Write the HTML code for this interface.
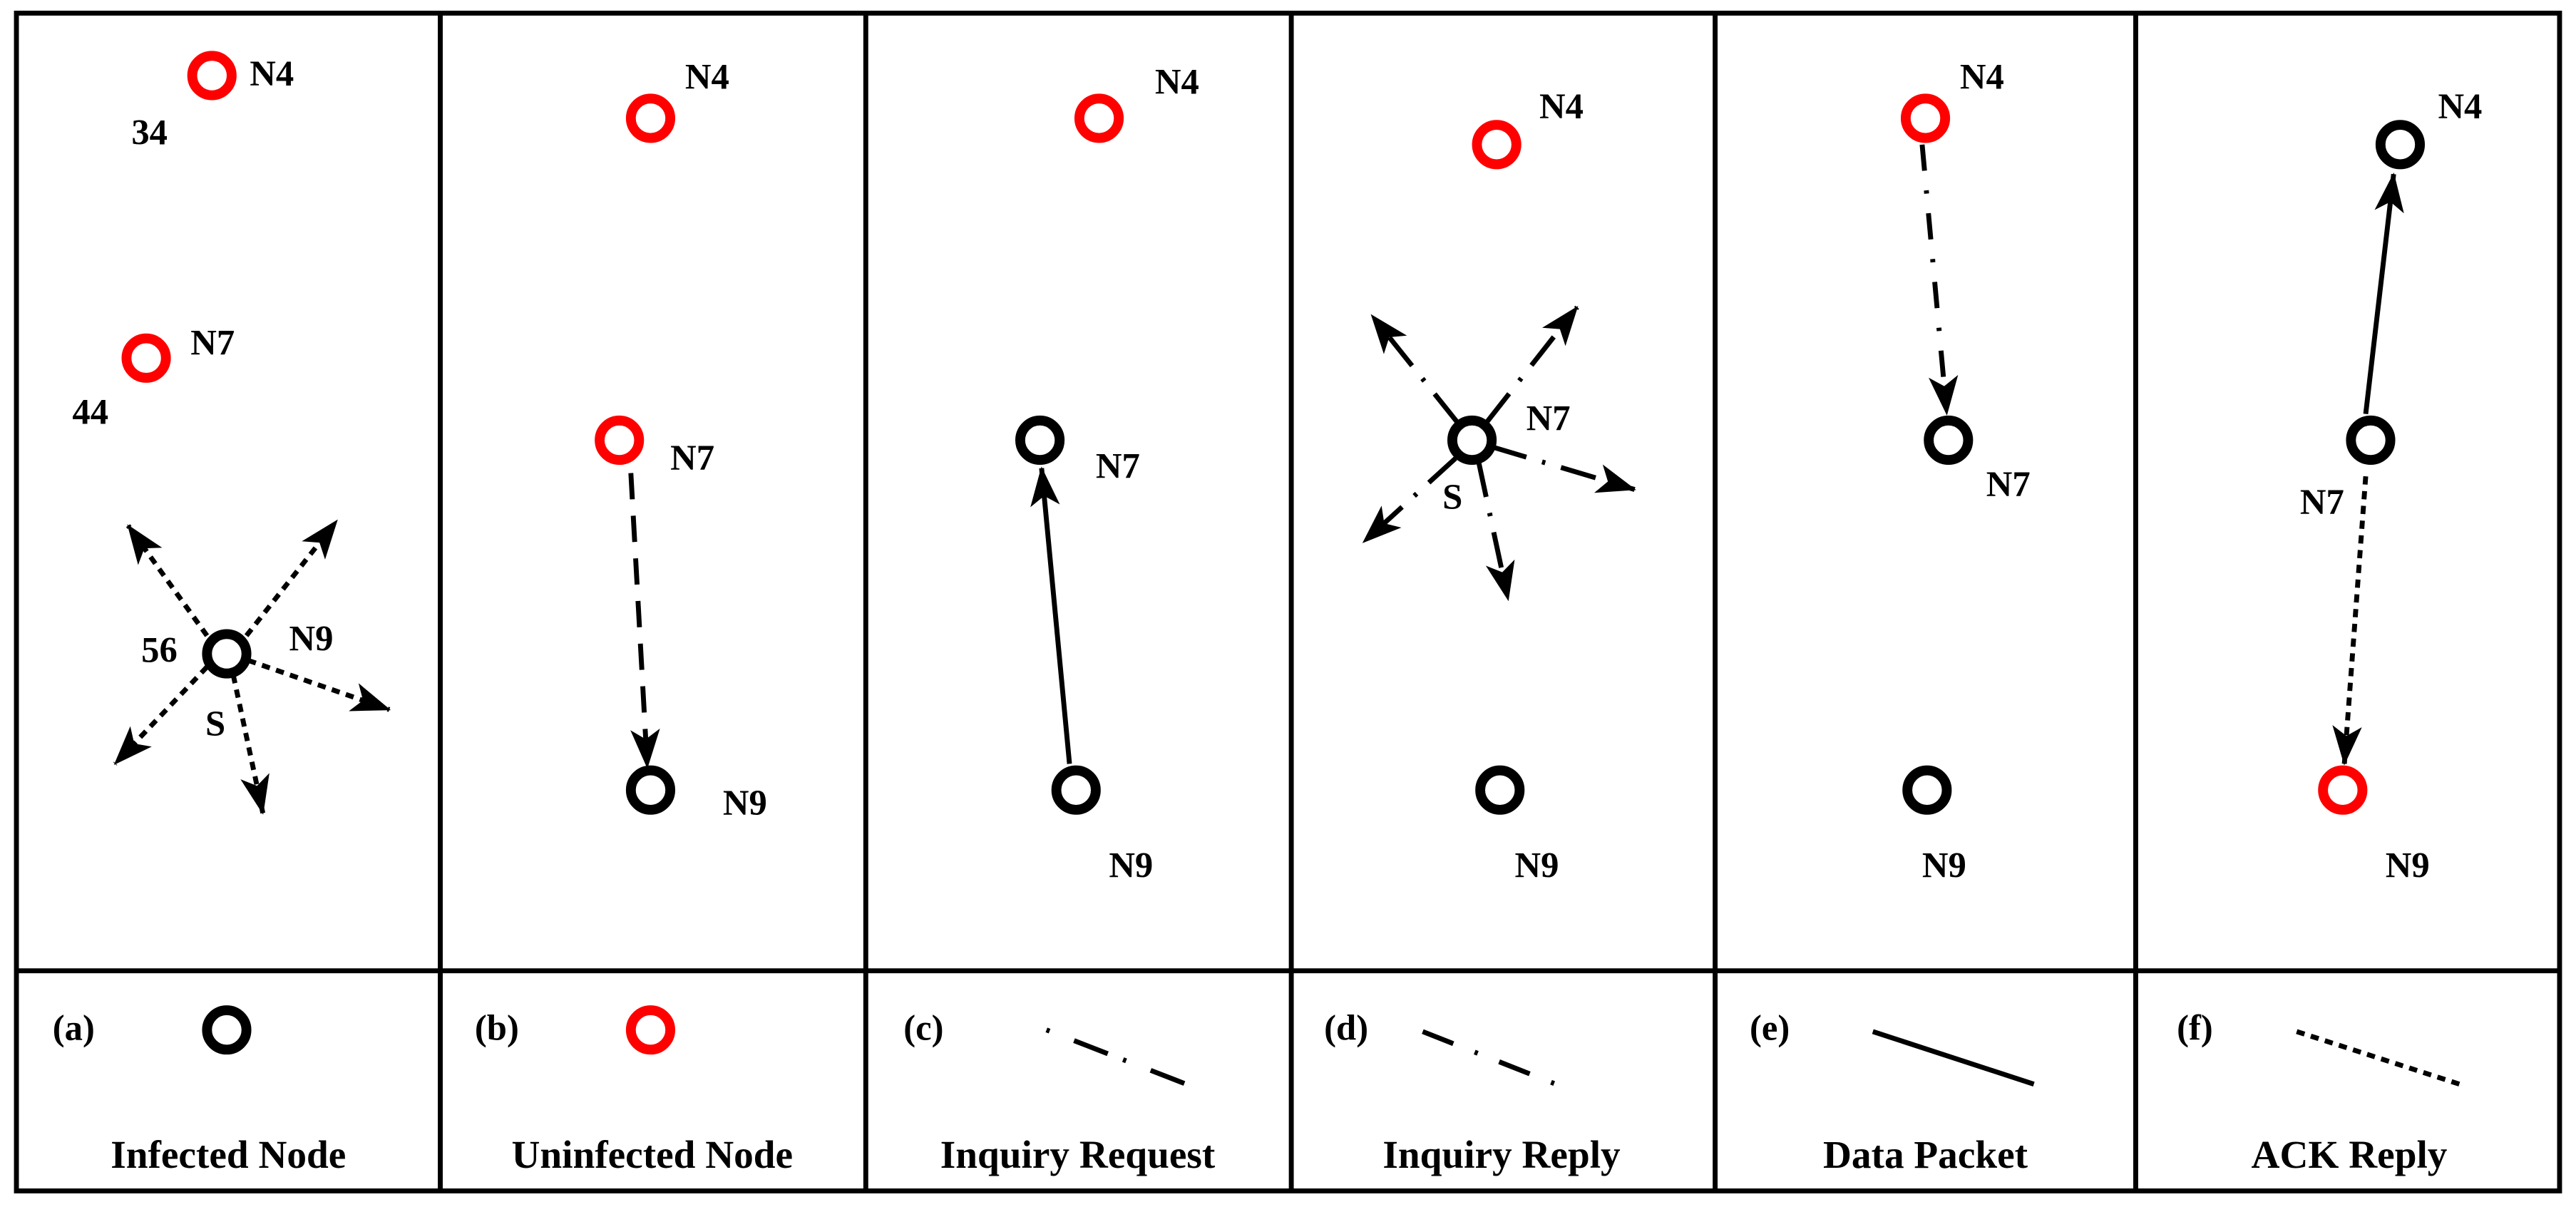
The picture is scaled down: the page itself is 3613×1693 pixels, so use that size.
<!DOCTYPE html>
<html><head><meta charset="utf-8"><style>html,body{margin:0;padding:0;background:#fff}svg{display:block}text{font-family:"Liberation Serif","DejaVu Serif",serif;font-weight:bold}</style></head><body>
<svg width="3613" height="1693" viewBox="0 0 1568 734.8" preserveAspectRatio="none" xmlns="http://www.w3.org/2000/svg">
<defs>
<marker id="ah" viewBox="0 0 24 18" refX="23" refY="9" markerWidth="24" markerHeight="18" markerUnits="userSpaceOnUse" orient="auto"><path d="M0,0 L24,9 L0,18 L6,9 Z" fill="#000"/></marker>
</defs>
<g fill="none" stroke="#000" stroke-width="3">
<rect x="10" y="8" width="1548" height="717"/>
<line x1="10" y1="591" x2="1558" y2="591"/>
<line x1="268" y1="8" x2="268" y2="725"/>
<line x1="527" y1="8" x2="527" y2="725"/>
<line x1="786" y1="8" x2="786" y2="725"/>
<line x1="1044" y1="8" x2="1044" y2="725"/>
<line x1="1300" y1="8" x2="1300" y2="725"/>
</g>
<g fill="none" stroke-width="6">
<circle cx="129" cy="46" r="12" stroke="#f00"/>
<circle cx="89" cy="218" r="12" stroke="#f00"/>
<circle cx="138" cy="398" r="12" stroke="#000"/>
<circle cx="396" cy="72" r="12" stroke="#f00"/>
<circle cx="377" cy="268" r="12" stroke="#f00"/>
<circle cx="396" cy="481" r="12" stroke="#000"/>
<circle cx="669" cy="72" r="12" stroke="#f00"/>
<circle cx="633" cy="268" r="12" stroke="#000"/>
<circle cx="655" cy="481" r="12" stroke="#000"/>
<circle cx="911" cy="88" r="12" stroke="#f00"/>
<circle cx="896" cy="268" r="12" stroke="#000"/>
<circle cx="913" cy="481" r="12" stroke="#000"/>
<circle cx="1172" cy="72" r="12" stroke="#f00"/>
<circle cx="1186" cy="268" r="12" stroke="#000"/>
<circle cx="1173" cy="481" r="12" stroke="#000"/>
<circle cx="1461" cy="88" r="12" stroke="#000"/>
<circle cx="1443" cy="268" r="12" stroke="#000"/>
<circle cx="1426" cy="481" r="12" stroke="#f00"/>
<circle cx="138" cy="627" r="12" stroke="#000"/>
<circle cx="396" cy="627" r="12" stroke="#f00"/>
</g>
<g stroke="#000" stroke-width="3" fill="none" marker-end="url(#ah)">
<g stroke-dasharray="5,4">
<line x1="126" y1="387" x2="78" y2="320"/>
<line x1="150" y1="387" x2="205" y2="317"/>
<line x1="151" y1="402" x2="237" y2="432"/>
<line x1="126" y1="406" x2="70" y2="465"/>
<line x1="142" y1="411" x2="160" y2="495"/>
<line x1="1440" y1="290" x2="1427" y2="465"/>
</g>
<line x1="384" y1="288" x2="394" y2="467" stroke-dasharray="16,10"/>
<line x1="651" y1="465" x2="634" y2="285"/>
<line x1="1440" y1="252" x2="1457" y2="106"/>
<line x1="1170" y1="88" x2="1185" y2="252" stroke-dasharray="16,12,2,12"/>
<g stroke-dasharray="22,10,2,10">
<path d="M887,257 L835,192"/>
<path d="M905,257 L960,187"/>
<path d="M908,272 L995,298"/>
<path d="M886,279 L830,330"/>
<path d="M900,281 L918,365"/>
</g>
</g>
<g stroke="#000" stroke-width="3" fill="none">
<line x1="637" y1="627" x2="722" y2="660" stroke-dasharray="2,16,22,10"/>
<line x1="866" y1="628" x2="947" y2="660" stroke-dasharray="20,14,2,14"/>
<line x1="1140" y1="628" x2="1238" y2="660"/>
<line x1="1398" y1="628" x2="1497" y2="660" stroke-dasharray="5,4"/>
</g>
<g font-size="22" fill="#000">
<text x="152" y="52">N4</text><text x="80" y="88">34</text>
<text x="116" y="216">N7</text><text x="44" y="258">44</text>
<text x="176" y="396">N9</text><text x="86" y="403">56</text><text x="125" y="448">S</text>
<text x="417" y="54">N4</text><text x="408" y="286">N7</text><text x="440" y="496">N9</text>
<text x="703" y="57">N4</text><text x="667" y="291">N7</text><text x="675" y="534">N9</text>
<text x="937" y="72">N4</text><text x="929" y="262">N7</text><text x="878" y="310">S</text><text x="922" y="534">N9</text>
<text x="1193" y="54">N4</text><text x="1209" y="302">N7</text><text x="1170" y="534">N9</text>
<text x="1484" y="72">N4</text><text x="1400" y="313">N7</text><text x="1452" y="534">N9</text>
<text x="32" y="633">(a)</text><text x="289" y="633">(b)</text><text x="550" y="633">(c)</text>
<text x="806" y="633">(d)</text><text x="1065" y="633">(e)</text><text x="1325" y="633">(f)</text>
</g>
<g font-size="24" fill="#000" text-anchor="middle">
<text x="139" y="711">Infected Node</text>
<text x="397" y="711">Uninfected Node</text>
<text x="656" y="711">Inquiry Request</text>
<text x="914" y="711">Inquiry Reply</text>
<text x="1172" y="711">Data Packet</text>
<text x="1430" y="711">ACK Reply</text>
</g>
</svg>
</body></html>
